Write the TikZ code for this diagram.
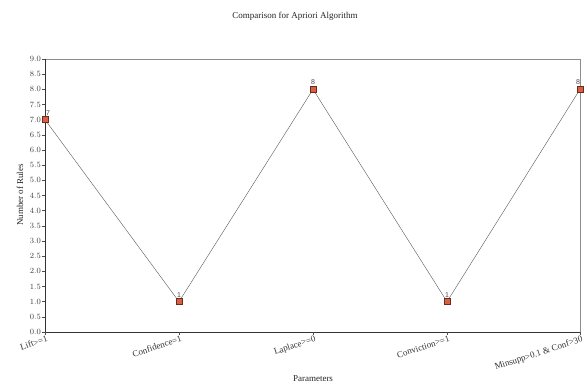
\documentclass[tikz,border=0pt]{standalone}
\usepackage{fontspec}
\setmainfont{Liberation Serif}
\newfontfamily\ticksf{Liberation Sans}
\definecolor{markfill}{RGB}{214,96,66}
\definecolor{markdraw}{RGB}{110,40,30}
\begin{document}
\begin{tikzpicture}[x=1pt,y=-1pt,
  mk/.style={rectangle,draw=markdraw,fill=markfill,minimum size=6pt,inner sep=0pt},
  val/.style={font=\ticksf\fontsize{7}{7}\selectfont,text=black!70,anchor=south,inner sep=1pt},
  ytick/.style={font=\ticksf\fontsize{8}{8}\selectfont,text=black!75,anchor=east,inner sep=1pt},
  xtick/.style={font=\fontsize{9}{9}\selectfont,text=black!80,anchor=north east,rotate=18,inner sep=1pt},
  lbl/.style={font=\fontsize{9}{9}\selectfont,text=black!85}]
\useasboundingbox[fill=white] (0,0) rectangle (587,385);

% 枠と軸
\draw[black!45,thin] (45,59) -- (580,59) -- (580,332);
\draw[black!80,line width=0.9pt] (45,59) -- (45,332) -- (580,332);

% y軸の目盛り
\foreach \i in {0,...,18}{
  \pgfmathsetmacro\yy{332-\i*273/18}
  \pgfmathsetmacro\vv{\i*0.5}
  \draw[black!70] (42,\yy) -- (45,\yy);
  \node[ytick] (yt\i) at (42,\yy) {\pgfmathprintnumber[fixed,precision=1,fixed zerofill]{\vv}};
}

% x軸の目盛りとラベル
\foreach \x/\t [count=\k] in {45/Lift>=1,179/Confidence=1,313/Laplace>=0,447/Conviction>=1,580/Minsupp>0.1 \& Conf>30}{
  \draw[black!70] (\x,332) -- (\x,335);
  \node[xtick] (xt\k) at (\x+2,334) {\t};
}

% データ点
\node[mk] (p1) at (45,{332-7*273/9}) {};
\node[mk] (p2) at (179,{332-1*273/9}) {};
\node[mk] (p3) at (313,{332-8*273/9}) {};
\node[mk] (p4) at (447,{332-1*273/9}) {};
\node[mk] (p5) at (580,{332-8*273/9}) {};
\draw[black!65] (p1.center) -- (p2.center) -- (p3.center) -- (p4.center) -- (p5.center);
\foreach \k in {1,...,5} \node[mk] at (p\k) {};

% 値ラベル
\node[val,xshift=3pt] (v1) at (p1.north) {7};
\node[val] (v2) at (p2.north) {1};
\node[val] (v3) at (p3.north) {8};
\node[val] (v4) at (p4.north) {1};
\node[val,xshift=-2pt] (v5) at (p5.north) {8};

% タイトルと軸名
\node[lbl] (title) at (295,16) {Comparison for Apriori Algorithm};
\node[lbl,rotate=90] (ylab) at (20,195) {Number of Rules};
\node[lbl] (xlab) at (313,379) {Parameters};
\end{tikzpicture}
\end{document}
